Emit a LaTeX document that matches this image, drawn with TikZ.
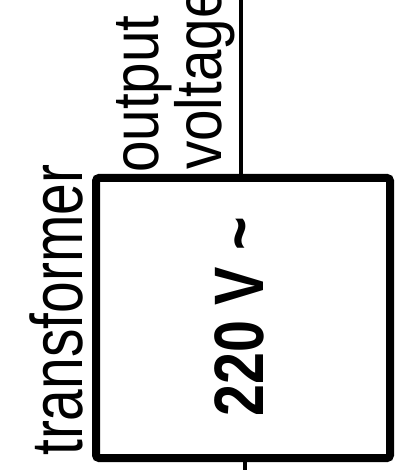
\documentclass[tikz,border=0pt]{standalone}
\usepackage{fontspec}
\setmainfont{Liberation Sans}
\usepackage{graphicx}

\begin{document}
\begin{tikzpicture}[x=1pt, y=-1pt]
    \useasboundingbox (0,0) rectangle (394,470);

    % Корпус трансформатора
    \node[draw, line width=8pt, rounded corners=3pt, inner sep=0pt,
          minimum width=294pt, minimum height=280pt] (trafo) at (243,318) {};

    % Выводы
    \coordinate (outlead) at (240.5,0);
    \coordinate (inlead) at (245,470);
    \draw[line width=4pt] (outlead) -- (outlead |- trafo.north);
    \draw[line width=4pt] (inlead) -- (inlead |- trafo.south);

    % Подписи
    \node[rotate=90, anchor=base west, inner sep=0pt] (name) at (82,456)
        {\fontsize{73}{73}\selectfont\scalebox{0.78}[1]{transformer}};
    \node[rotate=90, anchor=base west, inner sep=0pt] (out) at (158,173)
        {\fontsize{65}{65}\selectfont\scalebox{0.87}[1]{output}};
    \node[rotate=90, anchor=base west, inner sep=0pt] (volt) at (221,170)
        {\fontsize{65}{65}\selectfont\scalebox{0.87}[1]{voltage}};

    % Напряжение сети
    \node[rotate=90, anchor=base west, inner sep=0pt] (mains) at (263,417)
        {\fontsize{70}{70}\selectfont\bfseries\scalebox{0.82}[1]{220 V \textasciitilde}};
\end{tikzpicture}
\end{document}
